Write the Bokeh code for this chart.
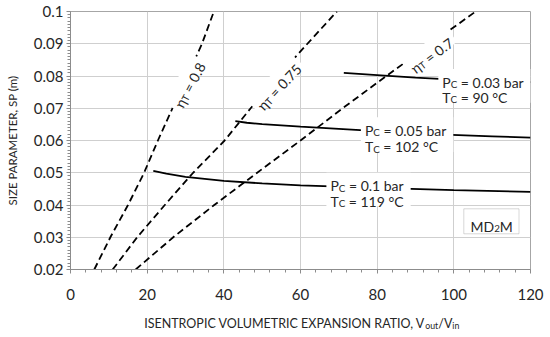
import glob, math, subprocess, struct
import numpy as np
from bokeh.plotting import figure
from bokeh.layouts import column
from bokeh.models import Label, BoxAnnotation, Range1d, FixedTicker
from bokeh.embed import file_html
from bokeh.resources import INLINE

FONT = "Lato"
TXT = "#262626"

# ---------------- data ----------------
sp_eta = [0.02, 0.03, 0.04, 0.05, 0.06, 0.07, 0.08, 0.09, 0.10]
vr_eta080 = [6.2, 10.4, 15.0, 19.2, 22.8, 26.6, 30.5, 34.3, 37.4]
vr_eta075 = [11.0, 17.4, 24.6, 32.0, 40.2, 47.0, 54.2, 61.8, 69.5]
vr_eta070 = [17.0, 26.8, 37.5, 48.7, 60.0, 71.0, 82.4, 94.0, 105.7]
eta_names = ["0.8", "0.75", "0.7"]

vr_p010 = [21.6, 25, 30, 40, 50, 60, 80, 100, 120]
sp_p010 = [0.0506, 0.0497, 0.0487, 0.0475, 0.0467, 0.0461, 0.0453, 0.0446, 0.0441]
vr_p005 = [43, 46, 50, 60, 70, 80, 96, 110, 120]
sp_p005 = [0.0660, 0.0655, 0.0651, 0.0643, 0.0636, 0.0629, 0.0619, 0.0613, 0.0609]
vr_p003 = [71.3, 80, 90, 100, 110, 120]
sp_p003 = [0.0810, 0.0803, 0.0795, 0.0789, 0.0785, 0.0781]

pc_names = ["0.03", "0.05", "0.1"]
tc_names = ["90", "102", "119"]

x_ticks = [0, 20, 40, 60, 80, 100, 120]
y_ticks = [0.02, 0.03, 0.04, 0.05, 0.06, 0.07, 0.08, 0.09, 0.1]
y_tick_labels = ["0.02", "0.03", "0.04", "0.05", "0.06", "0.07", "0.08", "0.09", "0.1"]

# ---------------- annotation placement ----------------
eta_lbl_x = [30.0, 53.5, 93.5]
eta_lbl_y = [0.0779, 0.0776, 0.0876]
eta_lbl_ang = [62, 47, 37]

pc_lbl_x = [97.0, 76.8, 67.8]
pc_lbl_y1 = [0.07811, 0.06316, 0.04591]
pc_lbl_y2 = [0.07328, 0.05799, 0.04118]

X0, X1, Y0, Y1 = 0, 120, 0.02, 0.1
FW, FH = 460, 258
KX = FW / (X1 - X0)
KY = FH / (Y1 - Y0)


# ---------------- text measurement ----------------
def find_font():
    pats = ["/usr/share/fonts/**/Lato-Regular.ttf", "/usr/share/fonts/**/Lato-Regular.otf",
            "/usr/local/share/fonts/**/Lato-Regular.ttf", "/usr/share/fonts/**/Lato*Regular*",
            "/usr/share/fonts/**/Lato*Reg*", "/usr/local/share/fonts/**/Lato*Reg*",
            "/usr/share/fonts/**/Lato*"]
    for pat in pats:
        f = sorted(g for g in glob.glob(pat, recursive=True) if g.lower().endswith((".ttf", ".otf")))
        if f:
            return f[0]
    try:
        r = subprocess.run(["fc-match", "-f", "%{file}", "Lato:style=Regular"], capture_output=True, text=True)
        if r.stdout.strip():
            return r.stdout.strip()
    except Exception:
        pass
    return None


def load_ttf(path):
    data = open(path, "rb").read()
    n = struct.unpack(">H", data[4:6])[0]
    tabs = {}
    for i in range(n):
        tag, _, off, ln = struct.unpack(">4sIII", data[12 + 16 * i:28 + 16 * i])
        tabs[tag.decode("latin1")] = off
    o = tabs["head"]
    upem = struct.unpack(">H", data[o + 18:o + 20])[0]
    o = tabs["hhea"]
    nhm = struct.unpack(">H", data[o + 34:o + 36])[0]
    o = tabs["hmtx"]
    adv = [struct.unpack(">H", data[o + 4 * i:o + 4 * i + 2])[0] for i in range(nhm)]
    co = tabs["cmap"]
    nsub = struct.unpack(">H", data[co + 2:co + 4])[0]
    best = None
    for i in range(nsub):
        pid, eid, so = struct.unpack(">HHI", data[co + 4 + 8 * i:co + 12 + 8 * i])
        fmt = struct.unpack(">H", data[co + so:co + so + 2])[0]
        if pid in (0, 3):
            if fmt == 12 or (fmt == 4 and best is None):
                best = (fmt, co + so)
    cmap = {}
    fmt, so = best
    if fmt == 4:
        segx2 = struct.unpack(">H", data[so + 6:so + 8])[0]
        seg = segx2 // 2
        ends = struct.unpack(">%dH" % seg, data[so + 14:so + 14 + segx2])
        starts = struct.unpack(">%dH" % seg, data[so + 16 + segx2:so + 16 + 2 * segx2])
        deltas = struct.unpack(">%dh" % seg, data[so + 16 + 2 * segx2:so + 16 + 3 * segx2])
        rp = so + 16 + 3 * segx2
        roffs = struct.unpack(">%dH" % seg, data[rp:rp + segx2])
        for k in range(seg):
            for ch in range(starts[k], min(ends[k], 0x3000) + 1):
                if roffs[k] == 0:
                    g = (ch + deltas[k]) & 0xFFFF
                else:
                    a = rp + 2 * k + roffs[k] + 2 * (ch - starts[k])
                    g = struct.unpack(">H", data[a:a + 2])[0]
                    if g:
                        g = (g + deltas[k]) & 0xFFFF
                cmap[ch] = g
    else:
        ng = struct.unpack(">I", data[so + 12:so + 16])[0]
        for k in range(ng):
            sc, ec, sg = struct.unpack(">III", data[so + 16 + 12 * k:so + 28 + 12 * k])
            for ch in range(sc, min(ec, 0x3000) + 1):
                cmap[ch] = sg + ch - sc
    return upem, adv, cmap


FONT_PATH = find_font()
try:
    METRICS = load_ttf(FONT_PATH)
except Exception:
    METRICS = None


def measure(text, size):
    if METRICS is not None:
        upem, adv, cmap = METRICS
        tot = 0
        for ch in text:
            g = cmap.get(ord(ch), 0)
            tot += adv[min(g, len(adv) - 1)]
        return tot / upem * size
    return 0.55 * size * len(text)


SUB = 0.7


def part_widths(parts, size):
    return [measure(t, size * SUB if sub else size) for t, sub in parts]


def compose(p, parts, x, y, size, angle=0.0, align="left", vcenter=False, color=TXT):
    th = math.radians(angle)
    c, s = math.cos(th), math.sin(th)
    ws = part_widths(parts, size)
    W = sum(ws)
    d = -W / 2 if align == "center" else 0.0
    base_drop = 0.72 * size / 2 if vcenter else 0.0
    for i, ((t, sub), w) in enumerate(zip(parts, ws)):
        fs = size * SUB if sub else size
        txt = t.strip(" ")
        if i == 0:
            # first part right-aligned at its end, so kerning never opens a gap at the join
            dd = d + w - measure(" " * (len(t) - len(t.rstrip(" "))), fs)
            ta = "right"
        else:
            lead = len(t) - len(t.lstrip(" "))
            dd = d + measure(" " * lead, fs) if lead else d
            ta = "left"
        dr = base_drop + (0.13 * size if sub else 0.0)
        p.add_layout(Label(x=x, y=y, x_offset=dd * c + dr * s, y_offset=dd * s - dr * c,
                           angle=th, text=txt, text_font=FONT, text_font_size=f"{fs:.2f}px",
                           text_align=ta, text_baseline="alphabetic", text_color=color))
        d += w
    return W


MAIN_H = 309
p = figure(width=550, height=MAIN_H, x_range=Range1d(X0, X1), y_range=Range1d(Y0, Y1),
           output_backend="svg", toolbar_location=None,
           min_border_left=70, min_border_right=20, min_border_top=11, min_border_bottom=MAIN_H - 11 - FH)
p.background_fill_color = "white"
p.border_fill_color = "white"
p.outline_line_color = "#a6a6a6"
p.outline_line_width = 1

p.xaxis.ticker = FixedTicker(ticks=x_ticks, minor_ticks=list(np.arange(0, 121, 4)))
p.yaxis.ticker = FixedTicker(ticks=y_ticks, minor_ticks=[round(v, 4) for v in np.arange(0.02, 0.1001, 0.001)])
p.yaxis.major_label_overrides = {t: l for t, l in zip(y_ticks, y_tick_labels)}

for ax in (p.xaxis, p.yaxis):
    ax.axis_line_color = "#8c8c8c"
    ax.major_tick_line_color = "#8c8c8c"
    ax.minor_tick_line_color = "#8c8c8c"
    ax.major_tick_in = 0
    ax.minor_tick_in = 0
    ax.major_tick_out = 4
    ax.minor_tick_out = 3
    ax.major_label_text_font = FONT
    ax.major_label_text_font_size = "15px"
    ax.major_label_text_color = TXT
p.yaxis.major_label_standoff = 3
p.xaxis.major_label_standoff = 15

p.yaxis.axis_label = "SIZE PARAMETER, SP (m)"
p.yaxis.axis_label_text_font = FONT
p.yaxis.axis_label_text_font_size = "11.5px"
p.yaxis.axis_label_text_font_style = "normal"
p.yaxis.axis_label_text_color = TXT
p.yaxis.axis_label_standoff = 12

p.xgrid.grid_line_color = "#cfcfcf"
p.ygrid.grid_line_color = "#cfcfcf"

# dashed efficiency lines
for vr in (vr_eta080, vr_eta075, vr_eta070):
    p.line(vr, sp_eta, line_color="black", line_width=1.8, line_dash="7 4")

# solid condensation lines
for vr, sp in ((vr_p010, sp_p010), (vr_p005, sp_p005), (vr_p003, sp_p003)):
    p.line(vr, sp, line_color="black", line_width=1.8)

# eta labels with white backgrounds
ETA_FS = 14
for name, lx, ly, ang in zip(eta_names, eta_lbl_x, eta_lbl_y, eta_lbl_ang):
    parts = [("η", False), ("T", True), (" = " + name, False)]
    W = sum(part_widths(parts, ETA_FS))
    p.rect(x=[lx], y=[ly], width=[W + 8], height=[ETA_FS * 1.3], angle=[math.radians(ang)],
           width_units="screen", height_units="screen", fill_color="white", line_color=None)

# Pc / Tc label backgrounds
PC_FS = 14
for lx, y1, y2, pn, tn in zip(pc_lbl_x, pc_lbl_y1, pc_lbl_y2, pc_names, tc_names):
    w1 = sum(part_widths([("P", False), ("C", True), (f" = {pn} bar", False)], PC_FS))
    w2 = sum(part_widths([("T", False), ("C", True), (f" = {tn} °C", False)], PC_FS))
    p.add_layout(BoxAnnotation(left=lx - 4 / KX, right=lx + (max(w1, w2) + 7) / KX,
                               top=y1 + (0.72 * PC_FS + 3) / KY, bottom=y2 - 5 / KY,
                               fill_color="white", fill_alpha=1.0, line_color=None))

# MD2M box
p.add_layout(BoxAnnotation(left=102.6, right=117.0, top=0.03882, bottom=0.03107,
                           fill_color="white", fill_alpha=1.0, line_color="#7f7f7f", line_width=1))

for name, lx, ly, ang in zip(eta_names, eta_lbl_x, eta_lbl_y, eta_lbl_ang):
    compose(p, [("η", False), ("T", True), (" = " + name, False)], lx, ly, ETA_FS,
            angle=ang, align="center", vcenter=True)

for lx, y1, y2, pn, tn in zip(pc_lbl_x, pc_lbl_y1, pc_lbl_y2, pc_names, tc_names):
    compose(p, [("P", False), ("C", True), (f" = {pn} bar", False)], lx, y1, PC_FS)
    compose(p, [("T", False), ("C", True), (f" = {tn} °C", False)], lx, y2, PC_FS)

compose(p, [("MD", False), ("2", True), ("M", False)], 104.35, 0.0332, 14)

# x-axis title strip (separate figure so subscripts can be composed); frame aligned with main frame
STRIP_H = 337 - MAIN_H
t = figure(width=550, height=STRIP_H, x_range=Range1d(70, 530), y_range=Range1d(0, STRIP_H),
           output_backend="svg", toolbar_location=None, x_axis_location=None, y_axis_location=None,
           min_border_left=70, min_border_right=20, min_border_top=0, min_border_bottom=0)
t.outline_line_color = None
t.xgrid.visible = False
t.ygrid.visible = False
t.background_fill_color = "white"
t.border_fill_color = "white"
compose(t, [("ISENTROPIC VOLUMETRIC EXPANSION RATIO, V", False), ("out", True), ("/V", False), ("in", True)],
        300, 337 - 323.3, 12.5, align="center")

layout = column(p, t, spacing=0)
open("out.html", "w").write(file_html(layout, INLINE))
